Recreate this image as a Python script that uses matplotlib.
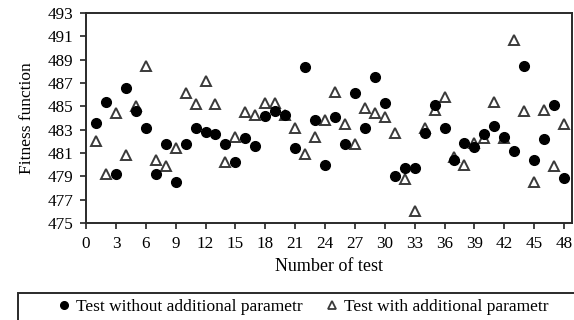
import matplotlib
matplotlib.use("Agg")
import matplotlib.pyplot as plt
from matplotlib.lines import Line2D
from matplotlib.patches import Rectangle

plt.rcParams['font.family'] = ['Liberation Serif', 'DejaVu Serif']

tests = list(range(1, 49))
without_param = [483.6, 485.4, 479.2, 486.6, 484.6, 483.1, 479.2, 481.8, 478.5, 481.8,
                 483.1, 482.8, 482.6, 481.8, 480.2, 482.3, 481.6, 484.2, 484.6, 484.3,
                 481.4, 488.4, 483.8, 480.0, 484.1, 481.8, 486.1, 483.1, 487.5, 485.3,
                 479.0, 479.7, 479.7, 482.7, 485.1, 483.1, 480.4, 481.9, 481.5, 482.6,
                 483.3, 482.4, 481.2, 488.5, 480.4, 482.2, 485.1, 478.9]
with_param = [482.0, 479.2, 484.4, 480.8, 485.0, 488.5, 480.4, 479.9, 481.4, 486.1,
              485.2, 487.2, 485.2, 480.2, 482.4, 484.5, 484.3, 485.3, 485.3, 484.3,
              483.1, 480.9, 482.4, 483.8, 486.2, 483.5, 481.8, 484.9, 484.4, 484.1,
              482.7, 478.8, 476.0, 483.1, 484.7, 485.8, 480.7, 480.0, 481.9, 482.3,
              485.4, 482.3, 490.7, 484.6, 478.5, 484.7, 479.9, 483.5]
x_ticks = list(range(0, 49, 3))
y_ticks = list(range(475, 494, 2))
label_without = "Test without additional parametr"
label_with = "Test with additional parametr"

fig = plt.figure(figsize=(5.74, 3.2), dpi=100)
ax = fig.add_axes([86/574, 1 - 223/320, (572 - 86)/574, (223 - 13)/320])

ax.plot(tests, with_param, linestyle='none', marker='^', markersize=6.5,
        markerfacecolor='white', markeredgecolor='#3a3a3a', markeredgewidth=1.4, zorder=3)
ax.plot(tests, without_param, linestyle='none', marker='o', markersize=7,
        markerfacecolor='black', markeredgecolor='black', zorder=4)

ax.set_xlim(0, 48.8)
ax.set_ylim(475, 493)
ax.set_xticks(x_ticks)
ax.set_yticks(y_ticks)
ax.tick_params(direction='out', length=4, width=1.2, color='#222222',
               labelsize=12.3, pad=5)
for s in ax.spines.values():
    s.set_linewidth(1.4)
    s.set_color('#2a2a2a')

ax.set_xlabel("Number of test", fontsize=13, labelpad=5)
ax.set_ylabel("Fitness function", fontsize=12.5, labelpad=9)

# legend box (extends beyond the figure edge as in the reference)
fig.patches.append(Rectangle((17.7/574, -0.2), 1.2, (320 - 292.7)/320 + 0.2,
                             transform=fig.transFigure, fill=False,
                             edgecolor='#2a2a2a', linewidth=1.4))
handles = [Line2D([], [], linestyle='none', marker='o', markersize=5.5,
                  markerfacecolor='black', markeredgecolor='black'),
           Line2D([], [], linestyle='none', marker='^', markersize=5.5,
                  markerfacecolor='white', markeredgecolor='#3a3a3a', markeredgewidth=1.3)]
fig.legend(handles, [label_without, label_with], loc='center left',
           bbox_to_anchor=(50/574, 1 - 307/320), ncol=2, frameon=False,
           fontsize=12.5, handlelength=0.8, handletextpad=0.3, columnspacing=1.3,
           borderaxespad=0)

fig.savefig("out.png", dpi=100)
